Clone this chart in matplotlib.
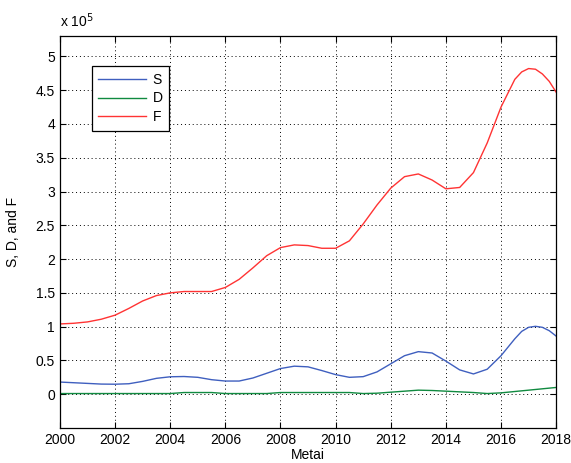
import numpy as np
import matplotlib
matplotlib.use("Agg")
import matplotlib.pyplot as plt
from matplotlib.ticker import FormatStrFormatter

# ================================
# 1) DUOMENYS (nuskaityta is paveikslo)
# ================================
years = [2000, 2000.5, 2001, 2001.5, 2002, 2002.5, 2003, 2003.5, 2004, 2004.5,
         2005, 2005.5, 2006, 2006.5, 2007, 2007.5, 2008, 2008.5, 2009, 2009.5,
         2010, 2010.5, 2011, 2011.5, 2012, 2012.5, 2013, 2013.5, 2014, 2014.5,
         2015, 2015.5, 2016, 2016.5, 2016.75, 2017, 2017.25, 2017.5, 2017.75, 2018]

S = [18000, 17000, 16000, 15000, 14800, 15500, 19000, 23500, 25800, 26200,
     25000, 21500, 19500, 19500, 24000, 31000, 38000, 41500, 40500, 35000,
     29000, 25000, 26000, 33000, 45000, 57000, 63000, 61000, 49000, 36000,
     30000, 37000, 57000, 82000, 93000, 99000, 100500, 99000, 94000, 86000]

D = [1000, 1000, 1000, 1000, 1000, 1000, 1000, 1000, 1000, 2500,
     2500, 2500, 1000, 1000, 1000, 1000, 2500, 2500, 2500, 2500,
     2500, 2500, 1000, 1500, 3000, 4500, 6000, 5500, 4500, 3500,
     2500, 1000, 2000, 4000, 5000, 6000, 7000, 8000, 9000, 10000]

F = [104000, 105000, 107000, 111000, 117000, 127000, 138000, 146000, 150000, 152000,
     152000, 152000, 158000, 170000, 187000, 205000, 217000, 221000, 220000, 216000,
     216000, 227000, 252000, 280000, 305000, 322000, 326000, 317000, 304000, 306000,
     328000, 372000, 425000, 466000, 477000, 482000, 481000, 474000, 463000, 447000]

escala = 1e5

# ================================
# 2) GRAFIKAS
# ================================
plt.rcParams["font.family"] = ["Liberation Sans", "DejaVu Sans"]
plt.rcParams["font.size"] = 10

fig = plt.figure(figsize=(5.71, 4.63), dpi=100)
ax = fig.add_axes([0.105, 0.0756, 0.869, 0.8464])

t = np.array(years)
ax.plot(t, np.array(S) / escala, color="#3f5fbf", lw=1.0, label="S")
ax.plot(t, np.array(D) / escala, color="#108a40", lw=1.0, label="D")
ax.plot(t, np.array(F) / escala, color="#ff3333", lw=1.0, label="F")

ax.set_xlim(2000, 2018)
ax.set_ylim(-0.5, 5.3)
ax.set_xticks(np.arange(2000, 2019, 2))
ax.set_yticks(np.arange(0, 5.01, 0.5))
ax.yaxis.set_major_formatter(FormatStrFormatter("%g"))
ax.tick_params(direction="in", top=True, right=True, length=4, width=0.8)
ax.grid(True, color="black", linestyle=(0, (1, 3)), linewidth=0.7)
for s in ax.spines.values():
    s.set_linewidth(0.9)

ax.set_xlabel("Metai", labelpad=0.5)
ax.set_ylabel("S, D, and F", labelpad=11)
ax.text(0.0, 1.015, "x 10$^5$", transform=ax.transAxes, ha="left", va="bottom")

leg = ax.legend(loc="upper left", bbox_to_anchor=(0.065, 0.923), borderaxespad=0,
                handlelength=3.4, fancybox=False, edgecolor="black", framealpha=1,
                borderpad=0.45, labelspacing=0.35, handletextpad=0.5)
leg.get_frame().set_linewidth(0.9)

fig.savefig("out.png", dpi=100)
